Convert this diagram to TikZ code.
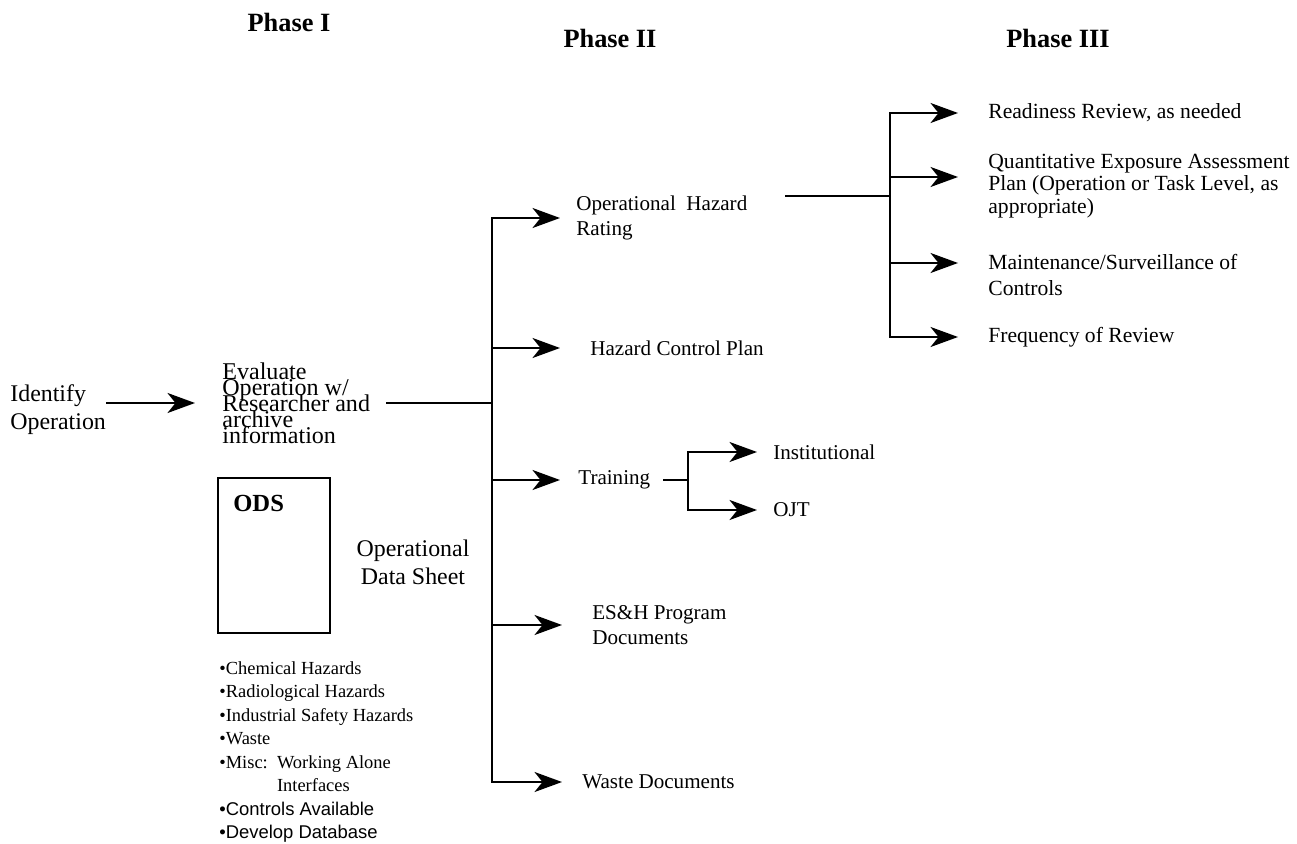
\documentclass[tikz,border=0pt]{standalone}
\usepackage{fontspec}
\setmainfont{Liberation Serif}
\newfontfamily\arialfont{Liberation Sans}
\usetikzlibrary{arrows.meta,calc}

\tikzset{
  arr/.style={-{Stealth[length=0.55cm,width=0.4cm,inset=0.16cm]}, line width=1.3pt},
  link/.style={line width=1.3pt, line cap=rect},
  phase/.style={font=\fontsize{15}{17}\selectfont\bfseries, inner sep=0pt},
  lbl/.style={font=\fontsize{12}{14}\selectfont, align=left, inner sep=0pt, anchor=west},
  lblbig/.style={font=\fontsize{13.6}{15.9}\selectfont, align=left, inner sep=0pt, anchor=west},
}

\begin{document}
\begin{tikzpicture}[x=0.02cm,y=-0.02cm]
    \useasboundingbox (0,0) rectangle (1297,844);
    % Titres
    \node[phase] (ph1) at (289,22) {Phase I};
    \node[phase] (ph2) at (610,38) {Phase II};
    \node[phase] (ph3) at (1058,38) {Phase III};

    % Phase I
    \node[lblbig] (ident) at (10,410) {Identify\\Operation};
    \node[lblbig, font={\fontsize{13.7}{9.1}\selectfont\lineskiplimit=-20pt}] (eval) at (222,403)
        {Evaluate\\Operation w/\\Researcher and\\archive\\information};
    \draw[arr, shorten >=0.54cm] (ident.east |- eval.west) -- (eval.west);
    \coordinate (tr2) at (492,0);
    \draw[link, shorten <=0.34cm] (eval.east) -- (eval.east -| tr2);

    \node[draw, line width=1.1pt, minimum width=2.24cm, minimum height=3.1cm,
          anchor=north west] (ods) at (217,477) {};
    \node[phase, font=\fontsize{14}{16}\selectfont\bfseries, anchor=west] (odst) at (233,503) {ODS};
    \node[font=\fontsize{13.6}{16}\selectfont, align=center, inner sep=0pt] (odsn) at (413,562)
        {Operational\\Data Sheet};
    \node[anchor=north west, inner sep=0pt, align=left, font=\fontsize{10.5}{13.4}\selectfont] (haz) at (219,661)
        {•Chemical Hazards\\
         •Radiological Hazards\\
         •Industrial Safety Hazards\\
         •Waste\\
         •Misc:\ \ Working Alone\\
         \phantom{•Misc:\ \ }Interfaces\\
         {\arialfont •Controls Available}\\
         {\arialfont •Develop Database}};

    % Phase II
    \node[lbl] (ohr) at (576,218) {Operational\ \ Hazard\\Rating};
    \node[lbl] (hcp) at (590,348) {Hazard Control Plan};
    \node[lbl] (trn) at (578,480) {Training};
    \node[lbl] (esh) at (592,625) {ES\&H Program\\Documents};
    \node[lbl] (wst) at (582,782) {Waste Documents};
    \draw[link] (tr2 |- ohr.west) -- (tr2 |- wst.west);
    \draw[arr, shorten >=0.32cm] (tr2 |- ohr.west) -- (ohr.west);
    \draw[arr, shorten >=0.6cm] (tr2 |- hcp.west) -- (hcp.west);
    \draw[arr, shorten >=0.36cm] (tr2 |- trn.west) -- (trn.west);
    \draw[arr, shorten >=0.6cm] (tr2 |- esh.west) -- (esh.west);
    \draw[arr, shorten >=0.4cm] (tr2 |- wst.west) -- (wst.west);

    % Training
    \coordinate (trs) at (688,0);
    \node[lbl] (inst) at (773,452) {Institutional};
    \node[lbl] (ojt) at (773,510) {OJT};
    \draw[link, shorten <=0.28cm] (trn.east) -- (trn.east -| trs);
    \draw[link] (trs |- inst.west) -- (trs |- ojt.west);
    \draw[arr, shorten >=0.32cm] (trs |- inst.west) -- (inst.west);
    \draw[arr, shorten >=0.32cm] (trs |- ojt.west) -- (ojt.west);

    % Phase III
    \coordinate (tr3) at (890,0);
    \node[lbl, font=\fontsize{12.3}{13}\selectfont] (rdy) at (988,113) {Readiness Review, as needed};
    \node[lbl, font=\fontsize{12.3}{13}\selectfont] (qea) at (988,186)
        {Quantitative Exposure Assessment\\Plan (Operation or Task Level, as\\appropriate)};
    \node[lbl, font=\fontsize{12.3}{14.5}\selectfont] (mnt) at (988,275) {Maintenance/Surveillance of\\Controls};
    \node[lbl, font=\fontsize{12.3}{13}\selectfont] (frq) at (988,337) {Frequency of Review};
    \coordinate (qa) at ($(qea.west)+(0,-9)$);
    \coordinate (ma) at ($(mnt.west)+(0,-12)$);
    \draw[link, shorten <=0.78cm] (ohr.north east) -- (ohr.north east -| tr3);
    \draw[link] (tr3 |- rdy.west) -- (tr3 |- frq.west);
    \draw[arr, shorten >=0.6cm] (tr3 |- rdy.west) -- (rdy.west);
    \draw[arr, shorten >=0.6cm] (tr3 |- qa) -- (qa);
    \draw[arr, shorten >=0.6cm] (tr3 |- ma) -- (ma);
    \draw[arr, shorten >=0.6cm] (tr3 |- frq.west) -- (frq.west);
\end{tikzpicture}
\end{document}
